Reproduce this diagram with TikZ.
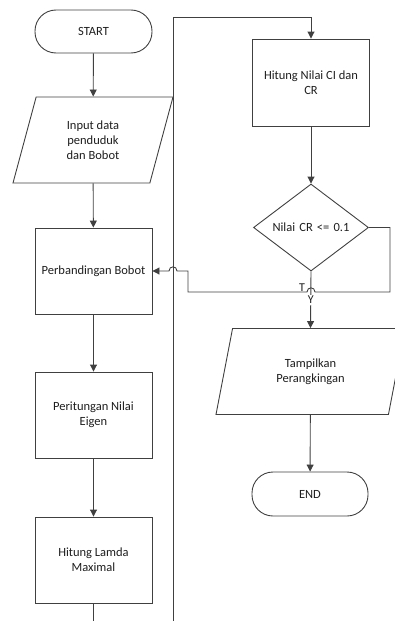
\documentclass[tikz,border=0pt]{standalone}
\usepackage{fontspec}
\setmainfont{Carlito}
\usepackage{tikz}
\usetikzlibrary{shapes.geometric, arrows.meta, positioning}
\definecolor{garis}{RGB}{64,64,64}
\definecolor{teks}{RGB}{30,30,30}
\tikzset{
  prosesbox/.style={draw=garis, line width=0.9pt, minimum width=117pt, minimum height=86pt,
                    align=center, text=teks, font=\fontsize{12.5}{15}\selectfont},
  terminal/.style={prosesbox, rounded corners=21pt, minimum height=43pt},
  iobox/.style={prosesbox, trapezium, trapezium left angle=63, trapezium right angle=117,
                trapezium stretches body, minimum width=160pt, inner xsep=0pt},
  keputusan/.style={prosesbox, diamond, aspect=1.32, minimum width=0pt, minimum height=0pt,
                    inner sep=0pt, text width=100pt},
  panah/.style={draw=garis, line width=0.9pt, -{Triangle[length=7pt,width=7pt]}},
  labelcab/.style={text=teks, font=\fontsize{12}{12}\selectfont, inner sep=1pt}
}
\begin{document}
\begin{tikzpicture}[x=1pt, y=-1pt]
        \useasboundingbox (0,0) rectangle (394,621);
        \node[terminal] (start) at (93.5,31.5) {START};
        \node[iobox] (input) at (93,140) {Input data\\penduduk\\dan Bobot};
        \node[prosesbox] (banding) at (93.5,271) {Perbandingan Bobot};
        \node[prosesbox] (eigen) at (93.5,415) {Peritungan Nilai\\Eigen};
        \node[prosesbox] (lamda) at (93.5,560) {Hitung Lamda\\Maximal};
        \node[prosesbox, minimum height=87pt] (cicr) at (311,82.5) {Hitung Nilai CI dan\\CR};
        \node[keputusan, minimum width=115pt, minimum height=87pt] (cek) at (311,227.5) {Nilai CR <= 0.1};
        \node[iobox, minimum width=189pt] (tampil) at (310.5,371.5) {Tampilkan\\Perangkingan};
        \node[terminal, minimum width=116pt, minimum height=44pt] (selesai) at (310,494) {END};

        \coordinate (bawah) at (173,640);
        \coordinate (atas) at (173,17);
        \coordinate (kanan) at (390,292);
        \coordinate (kiri) at (188,271);

        \draw[panah] (start) -- (input);
        \draw[panah] (input) -- (banding);
        \draw[panah] (banding) -- (eigen);
        \draw[panah] (eigen) -- (lamda);
        \draw[panah] (lamda.south) |- (bawah) -- (atas) -| (cicr.north);
        \draw[panah] (cicr) -- (cek);
        \draw[panah] (cek.south) -- (tampil.north)
          node[labelcab, fill=white, pos=0.5] (ya) {Y};
        \draw[panah] (tampil) -- (selesai);
        \draw[panah] (cek.east) -| (kanan) -- (315,292)
          .. controls (315,286.5) and (307,286.5) .. (307,292)
          -| (kiri) -- (177,271)
          .. controls (177,265.5) and (169,265.5) .. (169,271)
          -- (banding.east);
        \node[labelcab] (tidak) at (302,288) {T};
\end{tikzpicture}
\end{document}
